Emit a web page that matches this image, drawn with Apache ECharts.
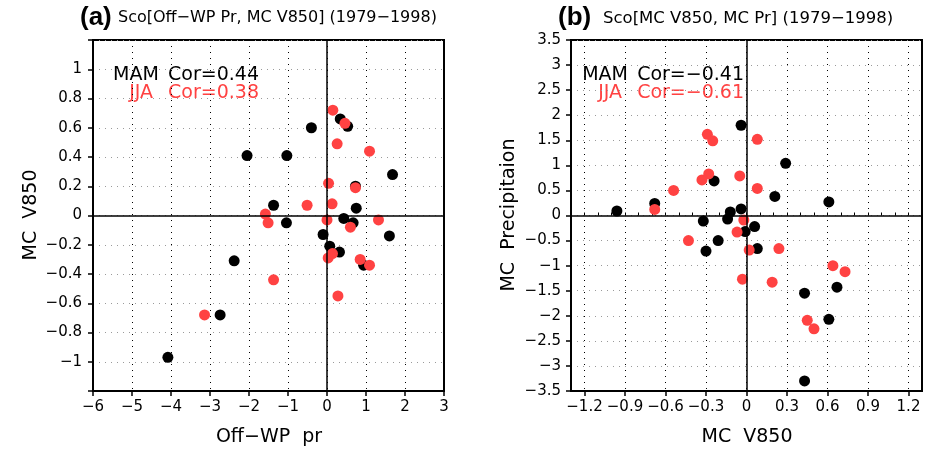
<!DOCTYPE html>
<html><head><meta charset="utf-8">
<script src="https://cdn.jsdelivr.net/npm/echarts@6/dist/echarts.min.js"></script>
<style>html,body{margin:0;padding:0;background:#fff}#c{width:931px;height:450px}</style>
</head><body><div id="c"></div>
<script>
// ---- Panel (a): Off-WP Pr vs MC V850 ----
const aMamX = [-4.08,-2.74,-2.38,-2.05,-1.37,-1.03,-1.04,-0.40,-0.10,0.07,0.32,0.34,0.53,0.43,0.67,0.73,0.75,0.94,1.60,1.68];
const aMamY = [-0.97,-0.68,-0.31,0.41,0.07,0.41,-0.05,0.60,-0.13,-0.21,-0.25,0.66,0.61,-0.02,-0.05,0.20,0.05,-0.34,-0.14,0.28];
const aJjaX = [-3.14,-1.58,-1.51,-1.37,-0.51,0.00,0.03,0.04,0.13,0.14,0.15,0.26,0.28,0.46,0.60,0.73,0.85,1.09,1.09,1.32];
const aJjaY = [-0.68,0.01,-0.05,-0.44,0.07,-0.03,-0.29,0.22,0.08,-0.26,0.72,0.49,-0.55,0.63,-0.08,0.19,-0.30,0.44,-0.34,-0.03];
// ---- Panel (b): MC V850 vs MC Pr ----
const bMamX = [-0.96,-0.68,-0.24,-0.04,-0.04,-0.12,-0.14,-0.32,0.06,-0.01,-0.21,-0.30,0.08,0.29,0.21,0.61,0.67,0.43,0.61,0.43];
const bMamY = [0.09,0.24,0.69,1.80,0.13,0.07,-0.07,-0.11,-0.22,-0.32,-0.50,-0.71,-0.66,1.04,0.38,0.27,-1.43,-1.55,-2.07,-3.30];
const bJjaX = [-0.68,-0.54,-0.33,-0.28,-0.29,-0.25,-0.05,0.08,0.08,-0.02,-0.07,-0.43,0.02,0.24,-0.03,0.19,0.64,0.73,0.45,0.50];
const bJjaY = [0.12,0.50,0.71,0.83,1.62,1.49,0.79,1.52,0.54,-0.09,-0.33,-0.50,-0.69,-0.66,-1.27,-1.33,-1.00,-1.12,-2.09,-2.26];

const bXTickValues = [-1.2,-0.9,-0.6,-0.3,0,0.3,0.6,0.9,1.2];
const titleA = 'Sco[Off−WP Pr, MC V850] (1979−1998)';
const titleB = 'Sco[MC V850, MC Pr] (1979−1998)';
const seasons = ['MAM', 'JJA'];
const corA = ['Cor=0.44', 'Cor=0.38'];
const corB = ['Cor=−0.41', 'Cor=−0.61'];
const axisTitles = {ax: 'Off−WP  pr', ay: 'MC  V850', bx: 'MC  V850', by: 'MC  Precipitaion'};

const RED = '#ff4242';
const FONT = 'DejaVu Sans';
const zip = (xs, ys) => xs.map((x, i) => [x, ys[i]]);
const fmt = v => {
  const r = Math.round(v * 100) / 100;
  return String(r).replace('-', '−');
};

const tickStyle = {show: true, inside: false, length: 5, lineStyle: {color: '#000', width: 1.5}};
const vGrid = {show: true, lineStyle: {color: '#000', width: 1, type: [1, 5]}};
const hGrid = {show: true, lineStyle: {color: '#9a9a9a', width: 1, type: [1, 5]}};
const lbl = {color: '#000', fontFamily: FONT, fontSize: 15};

const zeroLines = {
  silent: true, symbol: 'none', animation: false,
  label: {show: false},
  lineStyle: {color: '#000', width: 1.5, type: 'solid'},
  emphasis: {disabled: true},
  data: [{xAxis: 0}, {yAxis: 0}]
};

const txt = (o) => Object.assign({fontFamily: FONT, fill: '#000'}, o);
// correlation annotation: season name in a fixed-width box, then the value
const corText = (x, y, season, val, color, seasonWidth, seasonAlign) => ({
  type: 'text', x: x, y: y,
  style: {
    text: '{s|' + season + '}{v|' + val + '}',
    align: 'right', verticalAlign: 'middle',
    fontFamily: FONT, fontSize: 19, fill: color,
    rich: {
      s: {fontFamily: FONT, fontSize: 19, fill: color, width: seasonWidth, align: seasonAlign},
      v: {fontFamily: FONT, fontSize: 19, fill: color}
    }
  }
});

const chart = echarts.init(document.getElementById('c'), null, {renderer: 'canvas'});
chart.setOption({
  animation: false,
  backgroundColor: '#fff',
  grid: [
    {left: 93, top: 40, width: 351, height: 351, show: true, borderColor: '#000', borderWidth: 2, backgroundColor: 'transparent'},
    {left: 571, top: 40, width: 351, height: 351, show: true, borderColor: '#000', borderWidth: 2, backgroundColor: 'transparent'}
  ],
  xAxis: [
    {gridIndex: 0, type: 'value', min: -6, max: 3, interval: 1,
     axisLine: {show: true, onZero: false, lineStyle: {color: '#000', width: 2}},
     axisTick: tickStyle, splitLine: vGrid,
     axisLabel: Object.assign({margin: 9, formatter: fmt}, lbl)},
    {gridIndex: 1, type: 'value', min: -1.3, max: 1.3,
     axisLine: {show: true, onZero: false, lineStyle: {color: '#000', width: 2}},
     axisTick: Object.assign({customValues: bXTickValues}, tickStyle), splitLine: vGrid,
     axisLabel: Object.assign({margin: 9, customValues: bXTickValues, formatter: fmt}, lbl)},
    {gridIndex: 1, type: 'value', min: -1.3, max: 1.3, interval: 0.1, position: 'bottom',
     axisLine: {show: false}, splitLine: {show: false}, axisLabel: {show: false},
     axisTick: {show: true, inside: true, length: 3, lineStyle: {color: '#000', width: 1}}}
  ],
  yAxis: [
    {gridIndex: 0, type: 'value', min: -1.2, max: 1.2, interval: 0.2,
     axisLine: {show: true, onZero: false, lineStyle: {color: '#000', width: 2}},
     axisTick: tickStyle, splitLine: hGrid,
     axisLabel: Object.assign({margin: 11, formatter: v => Math.abs(v) > 1.01 ? '' : fmt(v)}, lbl)},
    {gridIndex: 1, type: 'value', min: -3.5, max: 3.5, interval: 0.5,
     axisLine: {show: true, onZero: false, lineStyle: {color: '#000', width: 2}},
     axisTick: tickStyle, splitLine: hGrid,
     axisLabel: Object.assign({margin: 10, formatter: fmt}, lbl)}
  ],
  series: [
    {type: 'scatter', xAxisIndex: 0, yAxisIndex: 0, name: 'MAM', data: zip(aMamX, aMamY),
     symbolSize: 11, itemStyle: {color: '#000', opacity: 1}, markLine: zeroLines, silent: true},
    {type: 'scatter', xAxisIndex: 0, yAxisIndex: 0, name: 'JJA', data: zip(aJjaX, aJjaY),
     symbolSize: 11, itemStyle: {color: RED, opacity: 1}, silent: true},
    {type: 'scatter', xAxisIndex: 1, yAxisIndex: 1, name: 'MAM', data: zip(bMamX, bMamY),
     symbolSize: 11, itemStyle: {color: '#000', opacity: 1}, markLine: zeroLines, silent: true},
    {type: 'scatter', xAxisIndex: 1, yAxisIndex: 1, name: 'JJA', data: zip(bJjaX, bJjaY),
     symbolSize: 11, itemStyle: {color: RED, opacity: 1}, silent: true}
  ],
  graphic: [
    {type: 'text', left: 80, top: 5, style: txt({text: '(a)', fontFamily: 'Liberation Sans', fontWeight: 'bold', fontSize: 26})},
    {type: 'text', left: 118, top: 10, style: txt({text: titleA, fontSize: 16})},
    {type: 'text', left: 558, top: 5, style: txt({text: '(b)', fontFamily: 'Liberation Sans', fontWeight: 'bold', fontSize: 26})},
    {type: 'text', left: 603, top: 10, style: txt({text: titleB, fontSize: 16.5})},
    corText(259, 75, seasons[0], corA[0], '#000', 55, 'left'),
    corText(259, 93, seasons[1], corA[1], RED, 54, 'center'),
    corText(744, 75, seasons[0], corB[0], '#000', 55, 'left'),
    corText(744, 93, seasons[1], corB[1], RED, 54, 'center'),
    {type: 'text', x: 269, y: 437, style: txt({text: axisTitles.ax, fontSize: 19, align: 'center', verticalAlign: 'middle'})},
    {type: 'text', x: 747, y: 437, style: txt({text: axisTitles.bx, fontSize: 19, align: 'center', verticalAlign: 'middle'})},
    {type: 'text', x: 31, y: 215, rotation: Math.PI / 2, style: txt({text: axisTitles.ay, fontSize: 19, align: 'center', verticalAlign: 'middle'})},
    {type: 'text', x: 509, y: 215, rotation: Math.PI / 2, style: txt({text: axisTitles.by, fontSize: 19, align: 'center', verticalAlign: 'middle'})}
  ]
});
</script></body></html>
